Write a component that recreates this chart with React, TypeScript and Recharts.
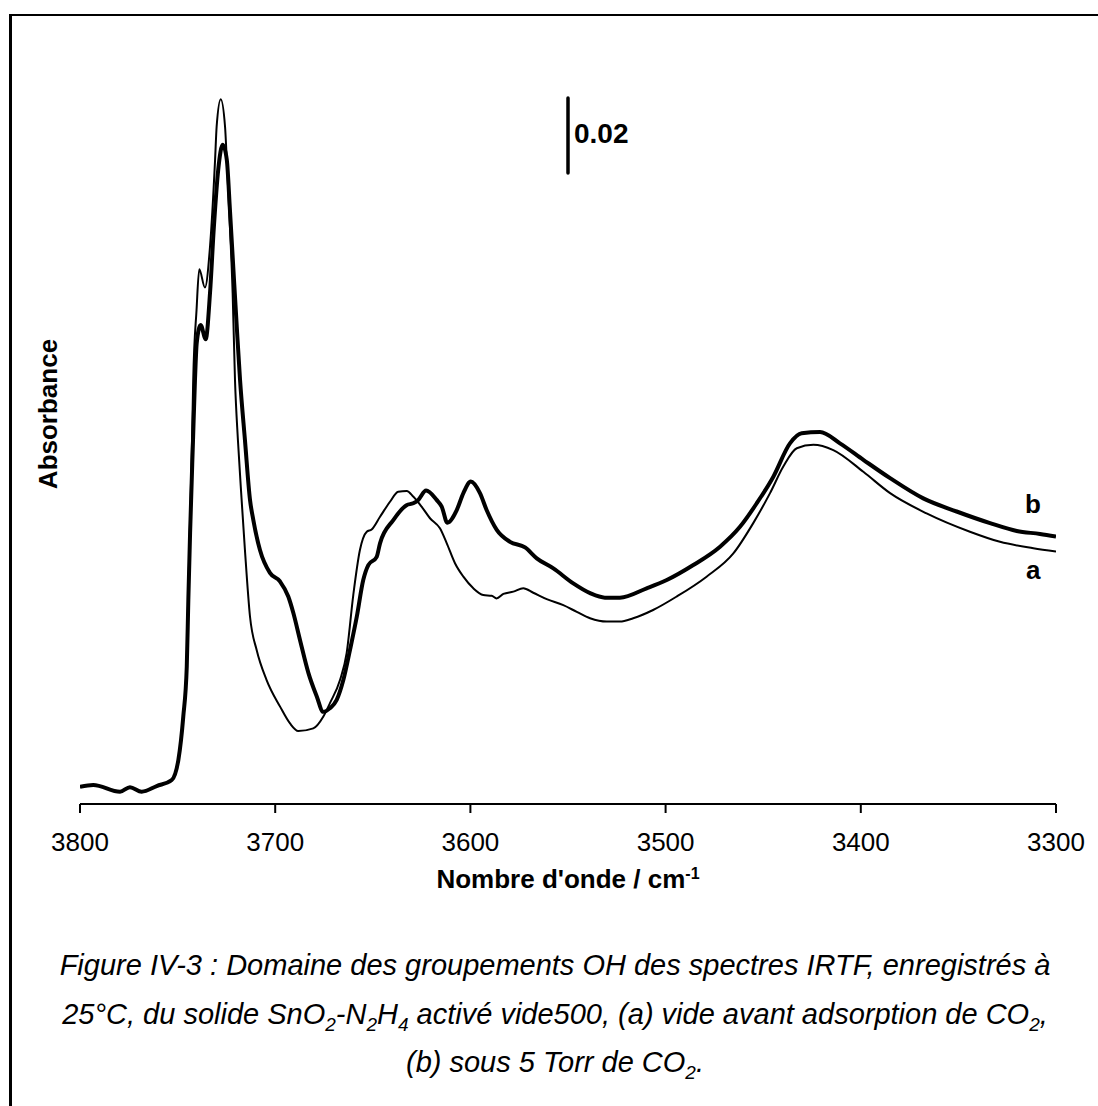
import React from "react";
import {
  LineChart,
  Line,
  XAxis,
  YAxis,
  ReferenceLine,
} from "recharts";

// IR spectra, OH region. x = wavenumber (cm-1), y = absorbance (a.u.)
const waveA = [
  3800, 3793.2, 3779.5, 3774.4, 3768.4, 3760.7, 3753.0, 3749.6, 3747.1, 3745.3,
  3744.5, 3743.6, 3742.6, 3742.0, 3740.3, 3738.9, 3736.0, 3733.4, 3730.8, 3730.0,
  3727.9, 3725.7, 3724.8, 3723.2, 3721.8, 3720.6, 3719.1, 3717.2, 3715.5, 3712.9,
  3709.5, 3704.4, 3697.5, 3692.4, 3688.2, 3680.5, 3675.4, 3671.9, 3666.8, 3663.4,
  3660.0, 3656.6, 3653.1, 3650.6, 3646.3, 3641.2, 3637.0, 3632.6, 3629.3, 3625.0,
  3620.7, 3615.6, 3612.1, 3607.9, 3603.6, 3598.5, 3593.4, 3589.1, 3586.6, 3583.1,
  3578.0, 3572.9, 3567.8, 3560.9, 3552.4, 3545.5, 3538.7, 3530.2, 3523.4, 3516.6,
  3506.4, 3494.3, 3479.0, 3465.3, 3455.1, 3446.5, 3439.7, 3432.8, 3424.3, 3414.1,
  3398.7, 3385.0, 3366.3, 3344.1, 3328.7, 3311.6, 3300,
];
const absA = [
  0.0046, 0.0051, 0.0033, 0.0045, 0.0033, 0.0048, 0.0064, 0.0118, 0.0233, 0.0385,
  0.0571, 0.0758, 0.0972, 0.1132, 0.1319, 0.1428, 0.1379, 0.1488, 0.1720, 0.1809,
  0.1882, 0.1809, 0.1720, 0.1542, 0.1364, 0.1132, 0.0972, 0.0812, 0.0678, 0.0500,
  0.0411, 0.0331, 0.0260, 0.0215, 0.0195, 0.0202, 0.0233, 0.0270, 0.0331, 0.0403,
  0.0558, 0.0678, 0.0727, 0.0733, 0.0767, 0.0807, 0.0834, 0.0836, 0.0821, 0.0794,
  0.0763, 0.0736, 0.0696, 0.0643, 0.0607, 0.0576, 0.0558, 0.0556, 0.0549, 0.0561,
  0.0567, 0.0576, 0.0564, 0.0547, 0.0531, 0.0513, 0.0496, 0.0487, 0.0487, 0.0496,
  0.0518, 0.0554, 0.0607, 0.0669, 0.0750, 0.0830, 0.0901, 0.0950, 0.0959, 0.0945,
  0.0887, 0.0830, 0.0776, 0.0727, 0.0700, 0.0683, 0.0674,
];

const waveB = [
  3800, 3793.2, 3779.5, 3774.4, 3768.4, 3760.7, 3753.0, 3749.6, 3747.1, 3745.3,
  3744.5, 3743.6, 3742.1, 3741.1, 3740.2, 3738.2, 3735.6, 3733.4, 3731.4, 3729.2,
  3726.9, 3724.8, 3723.2, 3721.5, 3719.7, 3718.0, 3715.5, 3712.9, 3711.2, 3707.8,
  3702.7, 3697.5, 3693.3, 3690.7, 3687.3, 3683.0, 3678.7, 3675.4, 3671.9, 3668.5,
  3665.1, 3661.7, 3658.2, 3654.9, 3652.3, 3648.0, 3646.3, 3639.5, 3632.7, 3629.3,
  3626.7, 3622.7, 3617.3, 3614.7, 3611.8, 3607.0, 3603.6, 3599.8, 3595.1, 3591.7,
  3586.5, 3579.7, 3572.0, 3566.0, 3557.5, 3547.3, 3538.7, 3531.1, 3523.4, 3509.7,
  3499.4, 3485.8, 3472.1, 3461.9, 3453.3, 3444.8, 3436.3, 3430.3, 3420.9, 3410.7,
  3398.7, 3385.0, 3368.0, 3350.9, 3333.8, 3320.1, 3308.2, 3300,
];
const absB = [
  0.0046, 0.0051, 0.0033, 0.0045, 0.0033, 0.0048, 0.0064, 0.0118, 0.0233, 0.0367,
  0.0545, 0.0724, 0.0972, 0.1132, 0.1231, 0.1279, 0.1241, 0.1364, 0.1542, 0.1693,
  0.1760, 0.1720, 0.1587, 0.1435, 0.1275, 0.1132, 0.0972, 0.0812, 0.0758, 0.0678,
  0.0617, 0.0594, 0.0554, 0.0510, 0.0438, 0.0350, 0.0287, 0.0246, 0.0256, 0.0278,
  0.0331, 0.0411, 0.0500, 0.0598, 0.0638, 0.0660, 0.0696, 0.0758, 0.0798, 0.0803,
  0.0812, 0.0837, 0.0812, 0.0794, 0.0751, 0.0785, 0.0830, 0.0861, 0.0830, 0.0785,
  0.0732, 0.0700, 0.0685, 0.0656, 0.0629, 0.0589, 0.0563, 0.0551, 0.0551, 0.0576,
  0.0598, 0.0638, 0.0687, 0.0740, 0.0803, 0.0874, 0.0963, 0.0990, 0.0993, 0.0963,
  0.0919, 0.0870, 0.0816, 0.0781, 0.0750, 0.0729, 0.0721, 0.0714,
];

const xTicks = [3800, 3700, 3600, 3500, 3400, 3300];

// scale bar: 0.02 absorbance at 3550 cm-1
const barWave = 3550;
const barBottom = 0.1685;
const barSize = 0.02;

const seriesA = waveA.map((w, i) => ({ w, v: absA[i] }));
const seriesB = waveB.map((w, i) => ({ w, v: absB[i] }));

const FONT = "Arial, 'Liberation Sans', Helvetica, sans-serif";
const subStyle: React.CSSProperties = { fontSize: 19, lineHeight: 0 };

export default function App() {
  const text: React.CSSProperties = {
    position: "absolute",
    fontFamily: FONT,
    color: "#000",
    whiteSpace: "nowrap",
  };

  return (
    <div
      style={{
        position: "absolute",
        left: 0,
        top: 0,
        width: 1098,
        height: 1106,
        background: "#fff",
        overflow: "hidden",
      }}
    >
      {/* figure frame, cut off at right and bottom */}
      <div
        style={{
          position: "absolute",
          left: 9,
          top: 14,
          width: 1200,
          height: 1200,
          borderLeft: "3px solid #000",
          borderTop: "2px solid #000",
        }}
      />

      <div style={{ position: "absolute", left: 0, top: 0 }}>
        <LineChart
          width={1098}
          height={900}
          margin={{ top: 25, right: 42, bottom: 36, left: 80 }}
        >
          <XAxis
            dataKey="w"
            type="number"
            domain={[3300, 3800]}
            reversed
            ticks={xTicks}
            allowDataOverflow
            height={60}
            tickSize={9}
            tickMargin={20}
            axisLine={{ stroke: "#000", strokeWidth: 2 }}
            tickLine={{ stroke: "#000", strokeWidth: 2 }}
            tick={{ fill: "#000", fontSize: 26, fontFamily: FONT }}
          />
          <XAxis
            xAxisId="top"
            orientation="top"
            type="number"
            domain={[3300, 3800]}
            reversed
            height={0}
            tick={false}
            tickLine={false}
            axisLine={{ stroke: "#000", strokeWidth: 2 }}
          />
          <YAxis
            type="number"
            domain={[0, 0.208]}
            allowDataOverflow
            width={0}
            tick={false}
            tickLine={false}
            axisLine={{ stroke: "#000", strokeWidth: 2 }}
          />
          <YAxis
            yAxisId="right"
            orientation="right"
            type="number"
            domain={[0, 0.208]}
            width={0}
            tick={false}
            tickLine={false}
            axisLine={{ stroke: "#000", strokeWidth: 2 }}
          />
          <Line
            data={seriesA}
            dataKey="v"
            type="monotoneX"
            stroke="#000"
            strokeWidth={2}
            dot={false}
            isAnimationActive={false}
          />
          <Line
            data={seriesB}
            dataKey="v"
            type="monotoneX"
            stroke="#000"
            strokeWidth={4}
            strokeLinejoin="round"
            dot={false}
            isAnimationActive={false}
          />
          <ReferenceLine
            segment={[
              { x: barWave, y: barBottom },
              { x: barWave, y: barBottom + barSize },
            ]}
            stroke="#000"
            strokeWidth={3.5}
            strokeLinecap="round"
          />
        </LineChart>
      </div>

      {/* scale bar value */}
      <div style={{ ...text, left: 574, top: 118, fontSize: 28, fontWeight: "bold" }}>
        0.02
      </div>

      {/* curve labels */}
      <div style={{ ...text, left: 1025, top: 489, fontSize: 26, fontWeight: "bold" }}>
        b
      </div>
      <div style={{ ...text, left: 1026, top: 555, fontSize: 26, fontWeight: "bold" }}>
        a
      </div>

      {/* y axis title */}
      <div
        style={{
          ...text,
          left: 48,
          top: 414,
          fontSize: 26,
          fontWeight: "bold",
          transform: "translate(-50%, -50%) rotate(-90deg)",
        }}
      >
        Absorbance
      </div>

      {/* x axis title */}
      <div
        style={{
          ...text,
          left: 568,
          top: 864,
          fontSize: 26,
          fontWeight: "bold",
          transform: "translateX(-50%)",
        }}
      >
        Nombre d'onde / cm
        <sup style={{ fontSize: 16, verticalAlign: "top", lineHeight: "20px" }}>-1</sup>
      </div>

      {/* caption */}
      <div
        style={{
          ...text,
          left: 0,
          width: 1110,
          top: 941,
          fontSize: 29,
          fontStyle: "italic",
          textAlign: "center",
          lineHeight: "48.5px",
        }}
      >
        <div>
          Figure IV-3 : Domaine des groupements OH des spectres IRTF, enregistrés à
        </div>
        <div>
          25°C, du solide SnO<sub style={subStyle}>2</sub>-N
          <sub style={subStyle}>2</sub>H
          <sub style={subStyle}>4</sub> activé vide500, (a) vide avant adsorption de CO
          <sub style={subStyle}>2</sub>,
        </div>
        <div>
          (b) sous 5 Torr de CO<sub style={subStyle}>2</sub>.
        </div>
      </div>
    </div>
  );
}
